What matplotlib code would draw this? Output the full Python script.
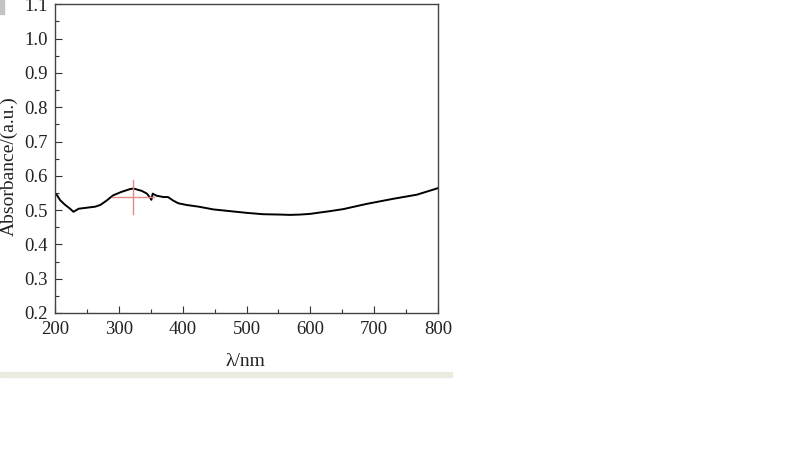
import numpy as np
import matplotlib
matplotlib.use("Agg")
import matplotlib.pyplot as plt
from matplotlib.patches import Rectangle
from matplotlib.ticker import MultipleLocator

# UV-Vis absorbance spectrum
wavelength = [200, 203, 208, 216, 223, 229, 237, 250, 263, 271, 281, 291, 304, 317,
              323, 336, 344, 349, 351, 353, 359, 370, 377, 385, 393, 406, 425, 448,
              474, 500, 526, 552, 568, 584, 600, 615, 631, 652, 688, 730, 767, 800]
absorbance = [0.548, 0.544, 0.529, 0.515, 0.505, 0.495, 0.504, 0.507, 0.510, 0.515,
              0.528, 0.543, 0.553, 0.561, 0.563, 0.556, 0.548, 0.536, 0.530, 0.548,
              0.542, 0.538, 0.538, 0.528, 0.520, 0.515, 0.510, 0.502, 0.497, 0.492,
              0.488, 0.487, 0.486, 0.487, 0.489, 0.493, 0.497, 0.503, 0.518, 0.533,
              0.545, 0.564]

# cursor crosshair (centre and half sizes in data units)
cursor_x, cursor_y = 322, 0.539
cursor_dx, cursor_dy = 33, 0.05

x_ticks = [200, 300, 400, 500, 600, 700, 800]
y_ticks = [0.2, 0.3, 0.4, 0.5, 0.6, 0.7, 0.8, 0.9, 1.0, 1.1]

plt.rcParams['font.family'] = ['Liberation Serif', 'DejaVu Serif']
plt.rcParams['mathtext.fontset'] = 'stix'

fig = plt.figure(figsize=(8, 4.68), dpi=100)
ax = fig.add_axes([0.06875, 0.3312, 0.47875, 0.6596])

ax.plot(wavelength, absorbance, color='black', linewidth=1.4)

ax.plot([cursor_x - cursor_dx, cursor_x + cursor_dx], [cursor_y, cursor_y],
        color='#e08a8a', linewidth=1.0)
ax.plot([cursor_x, cursor_x], [cursor_y - cursor_dy, cursor_y + cursor_dy],
        color='#e08a8a', linewidth=1.0)

ax.set_xlim(200, 800)
ax.set_ylim(0.2, 1.1)
ax.set_xticks(x_ticks)
ax.set_yticks(y_ticks)
ax.set_yticklabels(['%.1f' % v for v in y_ticks])
ax.xaxis.set_minor_locator(MultipleLocator(50))
ax.yaxis.set_minor_locator(MultipleLocator(0.05))
ax.tick_params(which='major', direction='in', length=5, width=0.8, labelsize=13.5,
               colors='#333333', labelcolor='#222222')
ax.tick_params(which='minor', direction='in', length=3, width=0.8, colors='#333333')
ax.tick_params(axis='x', pad=6)
ax.tick_params(axis='y', pad=5)
for s in ax.spines.values():
    s.set_color('#444444')
    s.set_linewidth(1.0)

fig.text(245 / 800, 1 - 362 / 468, 'λ/nm', ha='center', va='center', fontsize=14,
         color='#222222')
fig.text(9 / 800, 1 - 166 / 468, 'Absorbance/(a.u.)', rotation=90, ha='center',
         va='center', fontsize=14, color='#222222')

# screenshot leftovers: grey strip under the plot and grey block in the corner
fig.patches.append(Rectangle((0, 1 - 377 / 468), 452 / 800, 5.5 / 468,
                             transform=fig.transFigure, color='#ebebdf', zorder=0))
fig.patches.append(Rectangle((0, 1 - 14 / 468), 4 / 800, 14 / 468,
                             transform=fig.transFigure, color='#c4c4c4', zorder=0))

fig.savefig('out.png', dpi=100)
